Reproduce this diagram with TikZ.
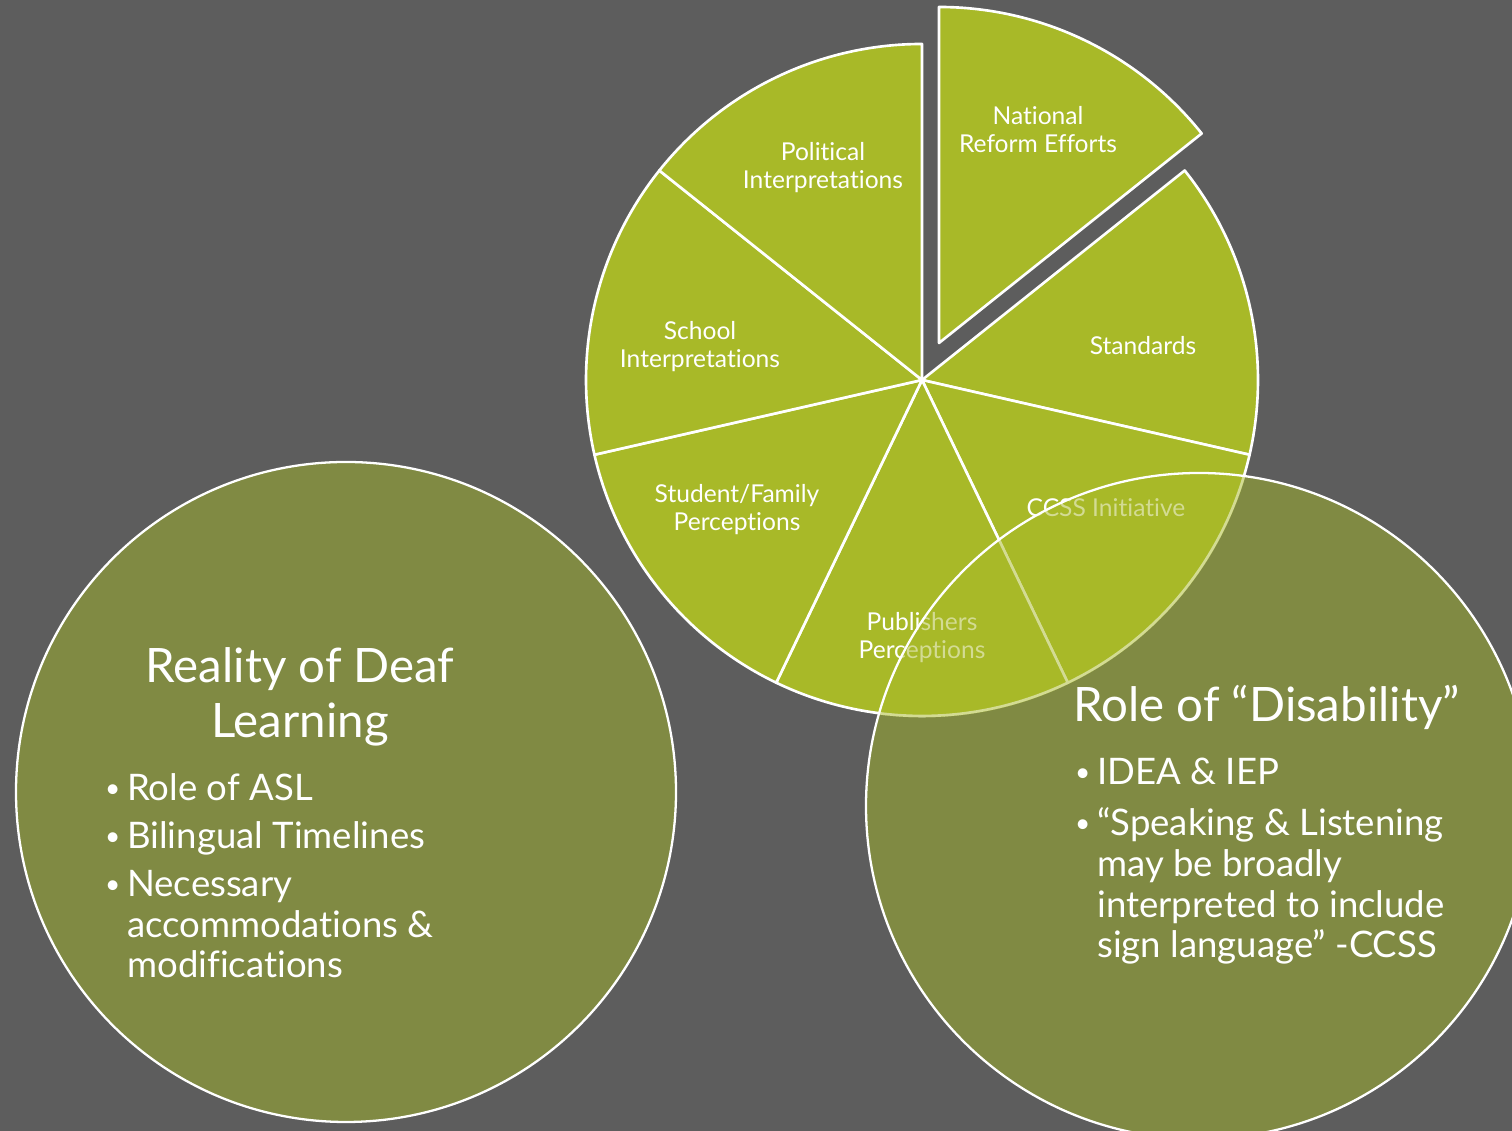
\documentclass[tikz,border=0pt]{standalone}
\usepackage{fontspec}
\setmainfont{Lato}[Ligatures=NoCommon]
\usepackage{graphicx}
\usepackage{tikz}

\definecolor{bggray}{RGB}{93,93,93}
\definecolor{piegreen}{RGB}{168,185,40}
\definecolor{circgreen}{RGB}{128,138,67}

\newcommand{\bul}{\makebox[13.6pt][l]{\hspace{1pt}\raisebox{1.8pt}{\scalebox{0.72}{\textbullet}}}}
\newcommand{\bulskip}{\hspace*{13.6pt}}

\begin{document}
\begin{tikzpicture}[x=0.02cm,y=0.02cm,
    slice/.style={fill=piegreen,draw=white,line width=1.5pt,line join=round},
    ring/.style={fill=circgreen,draw=white,line width=1.3pt},
    slicelabel/.style={text=white,align=center,inner sep=0pt,font=\fontsize{14}{15.9}\selectfont},
    headtext/.style={text=white,align=center,inner sep=0pt,font=\fontsize{27}{31}\selectfont},
    bullettext/.style={text=white,align=left,inner sep=0pt,font=\fontsize{20.8}{23.2}\selectfont}]

        \clip (0,0) rectangle (1512,1131);
        \fill[bggray] (0,0) rectangle (1512,1131);

        %the two circles
        \filldraw[ring] (346,339) circle[radius=330];
        \fill[circgreen] (1199,325) circle[radius=333];

        %the pie, seven equal slices
        \filldraw[slice] (939,788) -- ++(90:336) arc[start angle=90, end angle=38.571, radius=336] -- cycle;
        \filldraw[slice] (922,751) -- ++(38.571:336) arc[start angle=38.571, end angle=-12.857, radius=336] -- cycle;
        \filldraw[slice] (922,751) -- ++(-12.857:336) arc[start angle=-12.857, end angle=-64.286, radius=336] -- cycle;
        \filldraw[slice] (922,751) -- ++(-64.286:336) arc[start angle=-64.286, end angle=-115.714, radius=336] -- cycle;
        \filldraw[slice] (922,751) -- ++(-115.714:336) arc[start angle=-115.714, end angle=-167.143, radius=336] -- cycle;
        \filldraw[slice] (922,751) -- ++(192.857:336) arc[start angle=192.857, end angle=141.429, radius=336] -- cycle;
        \filldraw[slice] (922,751) -- ++(141.429:336) arc[start angle=141.429, end angle=90, radius=336] -- cycle;

        \node[slicelabel] (national) at (1038,1001) {National\\Reform Efforts};
        \node[slicelabel] (political) at (823,963) {Political\\Interpretations};
        \node[slicelabel] (school) at (700,784) {School\\Interpretations};
        \node[slicelabel] (standards) at (1143,785) {Standards};
        \node[slicelabel] (student) at (737,621) {Student/Family\\Perceptions};
        \node[slicelabel] (ccss) at (1106,623) {CCSS Initiative};
        \node[slicelabel] (publishers) at (922,493) {Publishers\\Perceptions};

        %the pie seen through the right circle
        \begin{scope}
            \clip (1199,325) circle[radius=333];
            \fill[piegreen,opacity=0.5] (922,751) circle[radius=337.5];
        \end{scope}
        \draw[white,line width=1.3pt] (1199,325) circle[radius=333];

        %texts in the circles
        \node[headtext] (realityT) at (300,434) {Reality of Deaf\\Learning};
        \node[bullettext,anchor=base west] (realityB) at (103,153)
            {\bul Role of ASL\\[4pt]
             \bul Bilingual Timelines\\[4pt]
             \bul Necessary\\
             \bulskip accommodations \&\\
             \bulskip modifications};

        \node[headtext,anchor=base west] (roleT) at (1073,409) {Role of “Disability”};
        \node[bullettext,anchor=base west] (roleB) at (1073,173)
            {\bul IDEA \& IEP\\[6pt]
             \bul “Speaking \& Listening\\
             \bulskip may be broadly\\
             \bulskip interpreted to include\\
             \bulskip sign language” -CCSS};
    \end{tikzpicture}
\end{document}
